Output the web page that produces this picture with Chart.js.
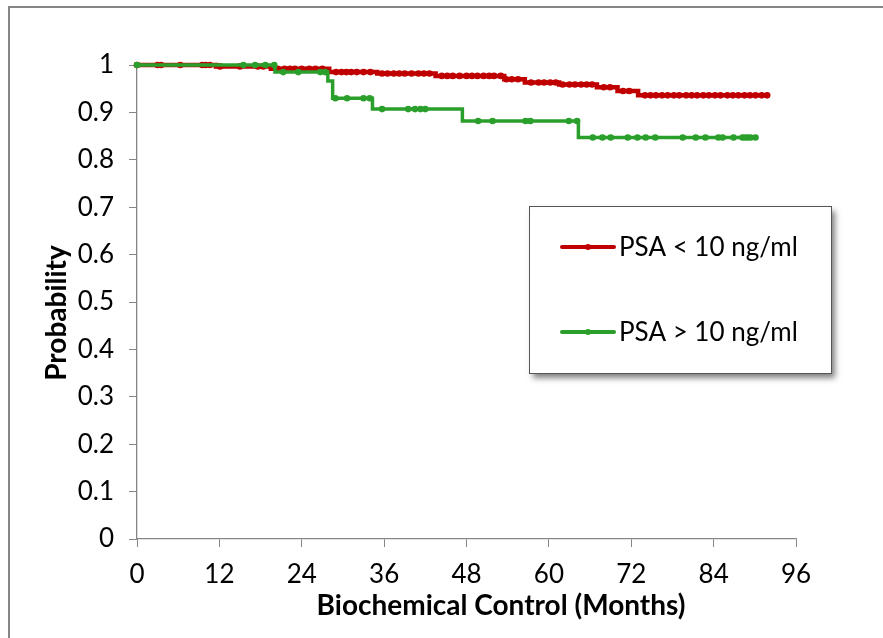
<!DOCTYPE html>
<html>
<head>
<meta charset="utf-8">
<script src="https://cdn.jsdelivr.net/npm/chart.js@4.4.1/dist/chart.umd.min.js"></script>
<style>
  body { margin: 0; background: #fff; }
  canvas { display: block; }
</style>
</head>
<body>
<canvas id="kmChart" width="883" height="638"></canvas>
<script>
// axis ticks
var monthTicks = [0, 12, 24, 36, 48, 60, 72, 84, 96];
var probTicks = [0, 0.1, 0.2, 0.3, 0.4, 0.5, 0.6, 0.7, 0.8, 0.9, 1];

var xTitle = 'Biochemical Control (Months)';
var yTitle = 'Probability';
var seriesLabels = ['PSA < 10 ng/ml', 'PSA > 10 ng/ml'];

// PSA < 10: step times (months) and survival after each step
var lowEventMonths = [11.5, 19.5, 28, 35, 43.5, 53.5, 56.5, 61.5, 67, 70, 73];
var lowSurvival = [0.997, 0.992, 0.985, 0.982, 0.977, 0.970, 0.963, 0.959, 0.953, 0.945, 0.936];
var lowCensorMonths = [0, 3, 3.5, 6.3, 9.5, 10, 10.6, 12.1, 15, 17.6, 18.4, 20.5, 21.5, 22.3, 23, 24,
  25.1, 26, 27, 29, 29.8, 30.5, 31.2, 32, 33, 34, 35.7, 36.5, 37.4, 38.2, 39, 40, 41, 41.8, 42.6,
  44.4, 45.2, 46, 47, 48, 48.8, 49.6, 50.5, 51.3, 52, 53, 53.8, 54.6, 55.5, 57.4, 58.5, 59.3, 60.2,
  61, 62, 63, 63.8, 64.7, 65.5, 66.3, 68, 68.9, 70.8, 71.7, 74, 74.8, 75.6, 76.5, 77.3, 78.2, 79,
  80, 80.8, 81.6, 82.5, 83.3, 84.2, 85, 86, 86.8, 87.6, 88.5, 89.3, 90.1, 91, 91.8];

// PSA > 10
var highEventMonths = [20.1, 27.8, 28.5, 34.3, 47.4, 64.3];
var highSurvival = [0.985, 0.966, 0.930, 0.907, 0.882, 0.847];
var highCensorMonths = [0, 15.5, 17.2, 18.7, 20, 21.3, 23.5, 26.7, 27.4, 28.9, 30.6, 33, 33.9, 35.7,
  39.5, 40.5, 41.3, 42, 49.7, 51.8, 56.6, 57.3, 62.9, 64.1, 66.4, 67.8, 69, 71.5, 72.9, 74.1, 75.5,
  79.5, 81.4, 82.8, 84.7, 85.3, 86.9, 88.2, 88.6, 89, 89.4, 90.1];

var RED = '#c00000';
var GREEN = '#2b9f2b';
var AXIS = '#868686';
var FONT = 'Lato, "Open Sans", sans-serif';

// merge steps and censor marks into one sorted point list
function curvePoints(eventMonths, survival, censorMonths) {
  var pts = [];
  eventMonths.forEach(function (t, i) { pts.push({ x: t, y: survival[i], c: false }); });
  censorMonths.forEach(function (t) {
    var level = 1;
    eventMonths.forEach(function (e, i) { if (e <= t) level = survival[i]; });
    pts.push({ x: t, y: level, c: true });
  });
  pts.sort(function (a, b) { return a.x - b.x || b.y - a.y; });
  return pts;
}

function markRadius(ctx) {
  return ctx.raw && ctx.raw.c ? 3.3 : 0;
}

// boxed legend with drop shadow, inside the plot
var boxLegend = {
  id: 'boxLegend',
  afterDraw: function (chart) {
    var ctx = chart.ctx;
    var box = { x: 529.5, y: 206.5, w: 302, h: 167 };
    var rows = [247, 332];
    ctx.save();
    ctx.shadowColor = 'rgba(0,0,0,0.5)';
    ctx.shadowBlur = 6;
    ctx.shadowOffsetX = 3;
    ctx.shadowOffsetY = 4;
    ctx.fillStyle = '#fff';
    ctx.fillRect(box.x, box.y, box.w, box.h);
    ctx.restore();
    ctx.save();
    ctx.strokeStyle = '#555';
    ctx.lineWidth = 1;
    ctx.strokeRect(box.x, box.y, box.w, box.h);
    chart.data.datasets.forEach(function (ds, i) {
      var y = rows[i];
      ctx.strokeStyle = ds.borderColor;
      ctx.lineWidth = 4;
      ctx.lineCap = 'round';
      ctx.beginPath();
      ctx.moveTo(562, y);
      ctx.lineTo(614, y);
      ctx.stroke();
      ctx.fillStyle = ds.borderColor;
      ctx.beginPath();
      ctx.arc(588, y, 3, 0, Math.PI * 2);
      ctx.fill();
      ctx.fillStyle = '#000';
      ctx.font = '26px ' + FONT;
      ctx.textBaseline = 'middle';
      ctx.fillText(ds.label, 619, y + 1);
    });
    ctx.restore();
  }
};

// outer frame and the two axis titles
var frameAndTitles = {
  id: 'frameAndTitles',
  beforeDraw: function (chart) {
    var ctx = chart.ctx;
    ctx.save();
    ctx.strokeStyle = '#858585';
    ctx.lineWidth = 2;
    ctx.strokeRect(9, 7, 1000, 1000);
    ctx.restore();
  },
  afterDraw: function (chart) {
    var ctx = chart.ctx;
    ctx.save();
    ctx.fillStyle = '#000';
    ctx.font = 'bold 28px ' + FONT;
    ctx.textAlign = 'center';
    ctx.textBaseline = 'middle';
    ctx.fillText(xTitle, 501, 606);
    ctx.translate(57, 313);
    ctx.rotate(-Math.PI / 2);
    ctx.fillText(yTitle, 0, 0);
    ctx.restore();
  }
};

var config = {
  type: 'line',
  data: {
    datasets: [{
      label: seriesLabels[0],
      data: curvePoints(lowEventMonths, lowSurvival, lowCensorMonths),
      borderColor: RED,
      backgroundColor: RED,
      borderWidth: 4.5,
      stepped: true,
      pointRadius: markRadius,
      pointBorderWidth: 0,
      pointBackgroundColor: RED,
      clip: false,
      order: 1
    }, {
      label: seriesLabels[1],
      data: curvePoints(highEventMonths, highSurvival, highCensorMonths),
      borderColor: GREEN,
      backgroundColor: GREEN,
      borderWidth: 3.5,
      stepped: true,
      pointRadius: markRadius,
      pointBorderWidth: 0,
      pointBackgroundColor: GREEN,
      clip: false,
      order: 0
    }]
  },
  options: {
    responsive: false,
    animation: false,
    devicePixelRatio: 1,
    layout: { padding: { top: 65, right: 87, bottom: 0, left: 0 } },
    plugins: {
      legend: { display: false },
      tooltip: { enabled: false }
    },
    scales: {
      x: {
        type: 'linear',
        min: 0,
        max: 96,
        afterBuildTicks: function (s) { s.ticks = monthTicks.map(function (v) { return { value: v }; }); },
        afterFit: function (s) { s.height = 99; },
        ticks: { color: '#000', font: { family: FONT, size: 26 }, padding: 12, maxRotation: 0 },
        grid: { drawOnChartArea: false, drawTicks: true, tickLength: 8, color: AXIS },
        border: { color: AXIS, width: 1.3 }
      },
      y: {
        min: 0,
        max: 1,
        afterBuildTicks: function (s) { s.ticks = probTicks.map(function (v) { return { value: v }; }); },
        afterFit: function (s) { s.width = 137; },
        ticks: {
          color: '#000',
          font: { family: FONT, size: 26 },
          padding: 15,
          callback: function (v) { return String(v); }
        },
        grid: { drawOnChartArea: false, drawTicks: true, tickLength: 8, color: AXIS },
        border: { color: AXIS, width: 1.3 }
      }
    }
  },
  plugins: [frameAndTitles, boxLegend]
};

var kmChart = new Chart(document.getElementById('kmChart'), config);
</script>
</body>
</html>
